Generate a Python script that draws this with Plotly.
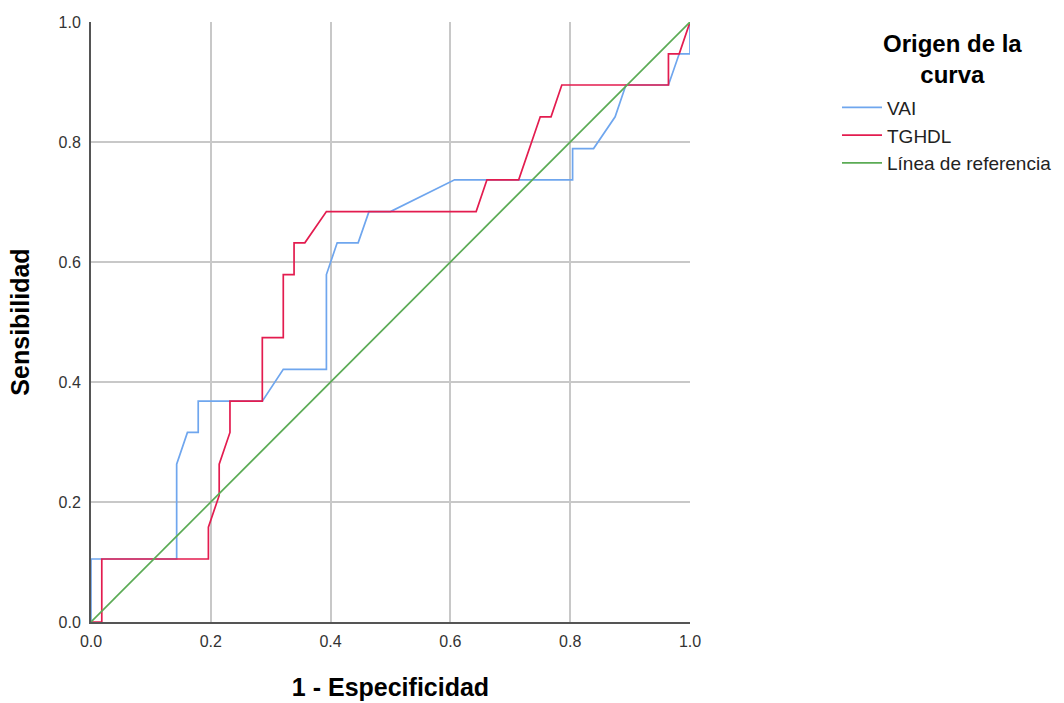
import plotly.graph_objects as go

# 1 - Especificidad / Sensibilidad points for each curve
vai_x = [0.0, 0.0, 0.143, 0.143, 0.161, 0.179, 0.179, 0.286, 0.321, 0.393, 0.393, 0.411,
         0.446, 0.464, 0.500, 0.607, 0.804, 0.804, 0.839, 0.875, 0.893, 0.964, 0.982, 1.0, 1.0]
vai_y = [0.0, 0.105, 0.105, 0.263, 0.316, 0.316, 0.368, 0.368, 0.421, 0.421, 0.579, 0.632,
         0.632, 0.684, 0.684, 0.737, 0.737, 0.789, 0.789, 0.842, 0.895, 0.895, 0.947, 0.947, 1.0]

tg_x = [0.0, 0.018, 0.018, 0.196, 0.196, 0.214, 0.214, 0.232, 0.232, 0.286, 0.286, 0.321,
        0.321, 0.339, 0.339, 0.357, 0.393, 0.643, 0.661, 0.714, 0.750, 0.768, 0.786, 0.964,
        0.964, 0.982, 1.0]
tg_y = [0.0, 0.0, 0.105, 0.105, 0.158, 0.211, 0.263, 0.316, 0.368, 0.368, 0.474, 0.474,
        0.579, 0.579, 0.632, 0.632, 0.684, 0.684, 0.737, 0.737, 0.842, 0.842, 0.895, 0.895,
        0.947, 0.947, 1.0]

ref_x = [0.0, 1.0]
ref_y = [0.0, 1.0]

tick_vals = [0.0, 0.2, 0.4, 0.6, 0.8, 1.0]
tick_text = ["0.0", "0.2", "0.4", "0.6", "0.8", "1.0"]

FONT = "Liberation Sans, Arial, sans-serif"

fig = go.Figure()
fig.add_trace(go.Scatter(x=vai_x, y=vai_y, mode="lines", name="VAI",
                         line=dict(color="#6fa6ee", width=1.7)))
fig.add_trace(go.Scatter(x=tg_x, y=tg_y, mode="lines", name="TGHDL",
                         line=dict(color="#e31c4f", width=1.7)))
fig.add_trace(go.Scatter(x=ref_x, y=ref_y, mode="lines", name="Línea de referencia",
                         line=dict(color="#5bab55", width=1.7)))

axis_common = dict(range=[0, 1], tickvals=tick_vals, ticktext=tick_text,
                   showgrid=True, gridcolor="#c8c8c8", gridwidth=2,
                   zeroline=False, showline=True, linecolor="#555555", linewidth=2,
                   ticks="", automargin=False,
                   tickfont=dict(family=FONT, size=16, color="#333333"))

fig.update_layout(
    width=1064, height=703,
    margin=dict(l=91, r=374, t=22, b=81, autoexpand=False),
    paper_bgcolor="white", plot_bgcolor="white",
    font=dict(family=FONT, color="#000000"),
    xaxis=dict(**axis_common, ticklabelstandoff=4,
               title=dict(text="<b>1 - Especificidad</b>", font=dict(family=FONT, size=25),
                          standoff=29)),
    yaxis=dict(**axis_common, ticklabelstandoff=5,
               title=dict(text="<b>Sensibilidad</b>", font=dict(family=FONT, size=25),
                          standoff=22)),
    legend=dict(x=1.2454, y=0.889, xanchor="left", yanchor="top",
                font=dict(family=FONT, size=19, color="#222222"),
                tracegroupgap=0, itemwidth=40, bgcolor="rgba(0,0,0,0)"),
    annotations=[dict(text="<b>Origen de la<br>curva</b>", xref="paper", yref="paper",
                      x=1.4374, y=0.938, xanchor="center", yanchor="middle", showarrow=False,
                      align="center", font=dict(family=FONT, size=24, color="#000000"))],
    showlegend=True,
)

fig.write_html("out.html", config={"displayModeBar": False},
               post_script="document.body.style.margin='0';")
